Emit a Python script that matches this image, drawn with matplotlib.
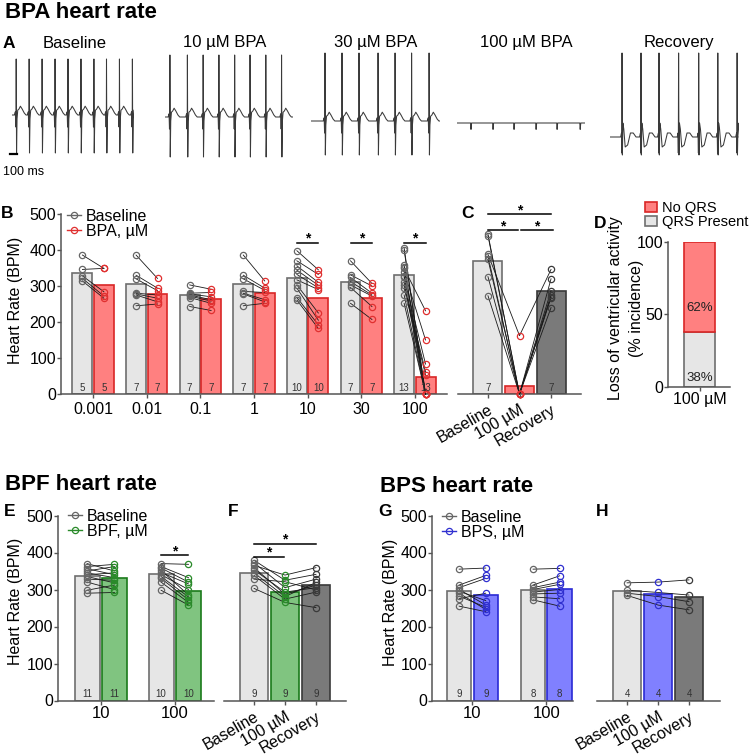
import matplotlib
matplotlib.use('Agg')
import numpy as np
import matplotlib.pyplot as plt
from matplotlib.lines import Line2D
from matplotlib.patches import Patch

plt.rcParams['font.family'] = ['Liberation Sans', 'DejaVu Sans']

# ---------------- data ----------------
TRACE_LABELS = ['Baseline', '10 µM BPA', '30 µM BPA', '100 µM BPA', 'Recovery']
TRACE_BEATS_MS = [
    [60, 245, 430, 615, 800, 985, 1170, 1350, 1535, 1720],
    [70, 320, 545, 770, 995, 1215, 1440, 1665],
    [200, 443, 686, 958, 1201, 1437, 1687],
    [200, 515, 815, 1130, 1430, 1760],
    [172, 443, 700, 980, 1267, 1540, 1816],
]
TRACE_DUR_MS = [1740, 1830, 1845, 1830, 1845]
TRACE_BASE_MV = [0.05, 0.0, -0.1, -0.15, -0.5]
TRACE_R_MV = [1.4, 1.55, 1.7, 0.0, 2.1]
TRACE_S_MV = [0.95, 1.0, 0.85, 0.16, 0.45]
# beat shapes: ms from R peak; R is marked 1 and S is marked -1
QRS_T = [-25, -12, -6, -2, 0, 5, 12, 22, 40, 60, 85, 115, 140]
QRS_V = [0, 0.08, -0.3, 0.0, 1, -1, -0.1, 0.12, 0.15, 0.22, 0.15, 0.05, 0]
FLAT_T = [-6, 0, 8]
FLAT_V = [0, -1, 0]
REC_T = [-20, -8, -4, 0, 5, 12, 25, 45, 80, 120, 160, 200]
REC_V = [0, 0.1, -0.4, 1, -1, 0.35, 0.2, -0.25, -0.2, 0.1, 0.1, 0]
TRACE_SHAPE = ['qrs', 'qrs', 'qrs', 'flat', 'rec']

B_DOSES = ['0.001', '0.01', '0.1', '1', '10', '30', '100']
B_BASE_MEAN = [337, 305, 275, 305, 321, 310, 330]
B_BPA_MEAN = [302, 277, 264, 280, 268, 268, 46]
B_N = [5, 7, 7, 7, 10, 7, 13]
B_BASE_PTS = [
    [386, 346, 328, 321, 314],
    [386, 330, 320, 280, 278, 275, 245],
    [303, 280, 278, 275, 272, 268, 243],
    [386, 330, 320, 285, 280, 278, 245],
    [398, 370, 356, 344, 332, 317, 303, 294, 268, 261],
    [370, 331, 324, 312, 303, 296, 252],
    [406, 400, 358, 353, 349, 340, 328, 325, 312, 303, 294, 275, 252],
]
B_BPA_PTS = [
    [349, 349, 284, 272, 266],
    [321, 294, 287, 275, 266, 256, 250],
    [291, 282, 270, 262, 258, 252, 232],
    [314, 294, 288, 282, 262, 256, 252],
    [345, 332, 310, 302, 295, 290, 225, 205, 192, 182],
    [307, 300, 280, 275, 272, 243, 207],
    [0, 0, 0, 0, 231, 150, 0, 83, 0, 62, 53, 0, 0],
]
B_SIG = [4, 5, 6]

COND_LABELS = ['Baseline', '100 µM', 'Recovery']
C_MEANS = [370, 22, 285]
C_N = [7, None, 7]
C_BASE = [444, 440, 388, 383, 374, 326, 273]
C_BPA = [0, 0, 162, 0, 0, 0, 0]
C_REC = [320, 287, 346, 275, 270, 268, 240]

D_LABEL = '100 µM'
D_PRESENT = 38
D_NO_QRS = 62

E_DOSES = ['10', '100']
E_BASE_MEAN = [336, 341]
E_BPF_MEAN = [332, 297]
E_N = [11, 10]
E_BASE_PTS = [[370, 362, 356, 350, 345, 340, 335, 328, 320, 298, 290],
              [370, 362, 358, 352, 346, 340, 335, 330, 320, 298]]
E_BPF_PTS = [[350, 368, 340, 362, 332, 345, 318, 325, 300, 312, 292],
             [368, 332, 320, 285, 315, 300, 280, 272, 265, 258]]
E_SIG = [1]

F_MEANS = [345, 294, 312]
F_N = [9, 9, 9]
F_BASE = [379, 372, 365, 359, 353, 345, 338, 328, 303]
F_BPF = [325, 305, 339, 287, 293, 281, 274, 321, 265]
F_REC = [341, 328, 359, 312, 305, 319, 293, 299, 251]

G_DOSES = ['10', '100']
G_BASE_MEAN = [295, 300]
G_BPS_MEAN = [286, 302]
G_N = [9, 8]
G_BASE_PTS = [[355, 312, 305, 300, 295, 290, 282, 275, 255],
              [355, 312, 305, 300, 293, 288, 280, 272]]
G_BPS_PTS = [[358, 338, 330, 258, 270, 246, 252, 290, 240],
             [357, 337, 320, 314, 300, 290, 275, 255]]

H_MEANS = [295, 287, 280]
H_N = [4, 4, 4]
H_BASE = [318, 298, 290, 284]
H_BPS = [320, 292, 281, 258]
H_REC = [326, 285, 267, 245]

# ---------------- style ----------------
GRAY_FILL, GRAY_EDGE, GRAY_PT = '#e6e6e6', '#6e6e6e', '#666666'
RED_FILL, RED_EDGE, RED_PT = '#ff8080', '#d92626', '#e03030'
DARK_FILL, DARK_EDGE, DARK_PT = '#7a7a7a', '#3a3a3a', '#3a3a3a'
GREEN_FILL, GREEN_EDGE, GREEN_PT = '#80c480', '#1a7a1a', '#2a8a2a'
BLUE_FILL, BLUE_EDGE, BLUE_PT = '#8080ff', '#2a2ad4', '#3030d0'
AXIS_C = '#555555'
LINE_C = '#1a1a1a'
MS = 4.5

W, H = 750, 756
fig = plt.figure(figsize=(W / 100, H / 100), dpi=100)


def px_ax(l, t, r, b):
    return fig.add_axes([l / W, 1 - b / H, (r - l) / W, (b - t) / H])


def style(ax, left=True, xpad=2.5, xsize=11.5):
    for s in ('top', 'right'):
        ax.spines[s].set_visible(False)
    ax.spines['left'].set_visible(left)
    for s in ('left', 'bottom'):
        ax.spines[s].set_color(AXIS_C)
        ax.spines[s].set_linewidth(1.1)
    ax.tick_params(direction='out', length=3, width=1, color=AXIS_C,
                   labelsize=11.5)
    ax.tick_params(axis='y', pad=0.5, left=left, labelleft=left)
    ax.tick_params(axis='x', pad=xpad, labelsize=xsize)
    ax.patch.set_alpha(0)


def points(ax, x, vals, color):
    ax.plot([x] * len(vals), vals, 'o', mfc='none', mec=color, ms=MS,
            mew=0.9, zorder=4, clip_on=False)


def n_label(ax, x, n):
    if n is not None:
        ax.text(x, 17, str(n), ha='center', va='center', fontsize=7,
                color='#333333', zorder=5)


def sig(ax, x0, x1, y):
    ax.plot([x0, x1], [y, y], color='k', lw=1.1, clip_on=False, zorder=5)
    ax.text((x0 + x1) / 2, y, '*', ha='center', va='baseline',
            fontsize=10, fontweight='bold', clip_on=False)


def paired(ax, labels, bmean, tmean, bpts, tpts, ns, fill, edge, ptc,
           off, width):
    x = np.arange(len(labels))
    ax.bar(x - off, bmean, width, color=GRAY_FILL, edgecolor=GRAY_EDGE,
           lw=1.2, zorder=1)
    ax.bar(x + off, tmean, width, color=fill, edgecolor=edge, lw=1.2,
           zorder=1)
    for i in range(len(labels)):
        for b, t in zip(bpts[i], tpts[i]):
            ax.plot([x[i] - off, x[i] + off], [b, t], color=LINE_C, lw=0.6,
                    zorder=3, clip_on=False)
        points(ax, x[i] - off, bpts[i], GRAY_PT)
        points(ax, x[i] + off, tpts[i], ptc)
        n_label(ax, x[i] - off, ns[i])
        n_label(ax, x[i] + off, ns[i])
    ax.set_xticks(x, labels)


def triple(ax, means, cols, ns, fills, edges, ptcs, width):
    x = np.arange(3)
    ax.bar(x, means, width, color=fills, edgecolor=edges, lw=1.2, zorder=1)
    for j in range(len(cols[0])):
        ax.plot(x, [c[j] for c in cols], color=LINE_C, lw=0.6, zorder=3,
                clip_on=False)
    for i in range(3):
        points(ax, x[i], cols[i], ptcs[i])
        n_label(ax, x[i], ns[i])
    ax.set_xticks(x, COND_LABELS, rotation=30, ha='right',
                  rotation_mode='anchor')


def legend(ax, labels, colors, x, y):
    hs = [Line2D([], [], color=c, marker='o', mfc='none', mec=c, ms=MS,
                 lw=1.0, mew=0.9) for c in colors]
    ax.legend(hs, labels, loc='upper left', bbox_to_anchor=(x, y),
              frameon=False, fontsize=11.5, handlelength=0.9,
              handletextpad=0.3, labelspacing=0.0, borderpad=0,
              borderaxespad=0)


# ---------------- titles and letters ----------------
for txt, (px, py) in [('BPA heart rate', (5, 12)), ('BPF heart rate', (5, 485)),
                      ('BPS heart rate', (380, 486))]:
    fig.text(px / W, 1 - py / H, txt, fontsize=16, fontweight='bold',
             ha='left', va='center')
for txt, (px, py) in [('A', (9, 43)), ('B', (7, 214)), ('C', (468, 213)),
                      ('D', (600, 223)), ('E', (10, 512)), ('F', (233, 512)),
                      ('G', (385, 512)), ('H', (602, 512))]:
    fig.text(px / W, 1 - py / H, txt, fontsize=12.5, fontweight='bold',
             ha='center', va='center')

# ---------------- A: traces ----------------
MS_PER_PX = 100 / 7
TRACE_LEFT_PX = [12, 165, 311, 457, 610]
TRACE_TITLE_PX = [75, 225, 376, 526, 679]
SHAPES = {'qrs': (QRS_T, QRS_V), 'flat': (FLAT_T, FLAT_V), 'rec': (REC_T, REC_V)}
for k in range(5):
    dur = TRACE_DUR_MS[k]
    ax = px_ax(TRACE_LEFT_PX[k], 45, TRACE_LEFT_PX[k] + dur / MS_PER_PX, 170)
    st, sv = SHAPES[TRACE_SHAPE[k]]
    sv = np.array(sv, dtype=float)
    sv = np.where(sv == 1, TRACE_R_MV[k], np.where(sv == -1, -TRACE_S_MV[k], sv))
    base = TRACE_BASE_MV[k]
    t, v = [0.0], [base]
    for beat in TRACE_BEATS_MS[k]:
        t.extend(beat + np.array(st))
        v.extend(base + sv)
    t.append(dur)
    v.append(base)
    ax.plot(t, v, color='#3a3a3a', lw=0.75)
    ax.set_xlim(0, dur)
    ax.set_ylim(-1.325, 1.8)
    ax.axis('off')
    if k == 0:
        ax.plot([-28, 72], [-0.93, -0.93], color='k', lw=1.6, clip_on=False)
    fig.text(TRACE_TITLE_PX[k] / W, 1 - 43 / H, TRACE_LABELS[k], fontsize=12,
             ha='center', va='center')
fig.text(3 / W, 1 - 172 / H, '100 ms', fontsize=9, ha='left', va='center')

# ---------------- B ----------------
ax = px_ax(61, 214, 447, 394)
paired(ax, B_DOSES, B_BASE_MEAN, B_BPA_MEAN, B_BASE_PTS, B_BPA_PTS, B_N,
       RED_FILL, RED_EDGE, RED_PT, 0.2, 0.373)
for i in B_SIG:
    sig(ax, i - 0.2, i + 0.2, 420)
ax.set_xlim(-0.6, 6.6)
ax.set_ylim(0, 500)
ax.set_yticks(range(0, 501, 100))
style(ax)
ax.set_ylabel('Heart Rate (BPM)', fontsize=11.5)
ax.yaxis.set_label_coords(-0.098, 0.522)
legend(ax, ['Baseline', 'BPA, µM'], [GRAY_PT, RED_PT], 0.0155, 1.03)

# ---------------- C ----------------
ax = px_ax(458, 214, 581, 394)
triple(ax, C_MEANS, [C_BASE, C_BPA, C_REC], C_N,
       [GRAY_FILL, RED_FILL, DARK_FILL], [GRAY_EDGE, RED_EDGE, DARK_EDGE],
       [GRAY_PT, RED_PT, DARK_PT], 0.92)
sig(ax, 0, 2, 500)
sig(ax, 0, 0.96, 455)
sig(ax, 1.04, 2.05, 455)
ax.set_xlim(-0.95, 2.95)
ax.set_ylim(0, 500)
style(ax, left=False, xpad=3)

# ---------------- D ----------------
ax = px_ax(668, 242, 730, 387)
ax.bar(0, D_PRESENT, 1.0, color=GRAY_FILL, edgecolor=GRAY_EDGE, lw=1.2)
ax.bar(0, D_NO_QRS, 1.0, bottom=D_PRESENT, color=RED_FILL, edgecolor=RED_EDGE,
       lw=1.2)
ax.text(0, D_PRESENT + D_NO_QRS * 0.27, f'{D_NO_QRS}%', ha='center',
        va='center', fontsize=9.5, color='#222222')
ax.text(0, 6, f'{D_PRESENT}%', ha='center', va='center', fontsize=9.5,
        color='#222222')
ax.set_xlim(-1.02, 0.98)
ax.set_ylim(0, 100)
ax.set_yticks([0, 50, 100])
ax.set_xticks([0], [D_LABEL])
style(ax, xpad=0.5)
# two-line y label, drawn as two rotated texts
ax.text(-0.85, 0.545, 'Loss of ventricular activity', transform=ax.transAxes,
        rotation=90, ha='center', va='center', fontsize=11.5)
ax.text(-0.5, 0.545, '(% incidence)', transform=ax.transAxes,
        rotation=90, ha='center', va='center', fontsize=11.5)
ax.legend([Patch(facecolor=RED_FILL, edgecolor=RED_EDGE, lw=1.2),
           Patch(facecolor=GRAY_FILL, edgecolor=GRAY_EDGE, lw=1.2)],
          ['No QRS', 'QRS Present'], loc='upper left',
          bbox_to_anchor=(-0.371, 1.283), frameon=False, fontsize=10.5,
          handlelength=0.85, handleheight=0.75, handletextpad=0.35,
          labelspacing=0.0, borderpad=0, borderaxespad=0)

# ---------------- E ----------------
ax = px_ax(58, 515.5, 214, 700.5)
paired(ax, E_DOSES, E_BASE_MEAN, E_BPF_MEAN, E_BASE_PTS, E_BPF_PTS, E_N,
       GREEN_FILL, GREEN_EDGE, GREEN_PT, 0.185, 0.34)
for i in E_SIG:
    sig(ax, i - 0.185, i + 0.185, 392)
ax.set_xlim(-0.578, 1.53)
ax.set_ylim(0, 500)
ax.set_yticks(range(0, 501, 100))
style(ax, xpad=0.8, xsize=12)
ax.set_ylabel('Heart Rate (BPM)', fontsize=11.5)
ax.yaxis.set_label_coords(-0.223, 0.538)
legend(ax, ['Baseline', 'BPF, µM'], [GRAY_PT, GREEN_PT], 0.064, 1.035)

# ---------------- F ----------------
ax = px_ax(224, 515.5, 346, 700.5)
triple(ax, F_MEANS, [F_BASE, F_BPF, F_REC], F_N,
       [GRAY_FILL, GREEN_FILL, DARK_FILL], [GRAY_EDGE, GREEN_EDGE, DARK_EDGE],
       [GRAY_PT, GREEN_PT, DARK_PT], 0.93)
sig(ax, 0, 2, 424)
sig(ax, 0, 0.96, 388)
ax.set_xlim(-0.97, 2.97)
ax.set_ylim(0, 500)
style(ax, left=False, xpad=3)

# ---------------- G ----------------
ax = px_ax(432, 515.5, 573, 700.5)
paired(ax, G_DOSES, G_BASE_MEAN, G_BPS_MEAN, G_BASE_PTS, G_BPS_PTS, G_N,
       BLUE_FILL, BLUE_EDGE, BLUE_PT, 0.18, 0.33)
ax.set_xlim(-0.547, 1.36)
ax.set_ylim(0, 500)
ax.set_yticks(range(0, 501, 100))
style(ax, xpad=0.8, xsize=12)
ax.set_ylabel('Heart Rate (BPM)', fontsize=11.5)
ax.yaxis.set_label_coords(-0.24, 0.53)
legend(ax, ['Baseline', 'BPS, µM'], [GRAY_PT, BLUE_PT], 0.07, 1.03)

# ---------------- H ----------------
ax = px_ax(597, 515.5, 720, 700.5)
triple(ax, H_MEANS, [H_BASE, H_BPS, H_REC], H_N,
       [GRAY_FILL, BLUE_FILL, DARK_FILL], [GRAY_EDGE, BLUE_EDGE, DARK_EDGE],
       [GRAY_PT, BLUE_PT, DARK_PT], 0.93)
ax.set_xlim(-0.97, 3.0)
ax.set_ylim(0, 500)
style(ax, left=False, xpad=3)

fig.savefig('out.png', dpi=100)
